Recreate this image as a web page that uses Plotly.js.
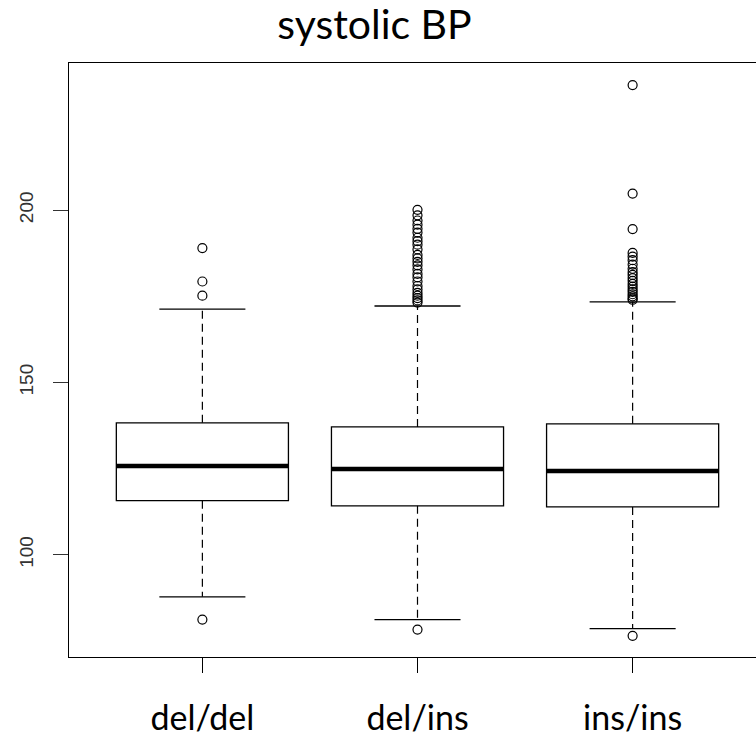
<!DOCTYPE html>
<html>
<head>
<meta charset="utf-8">
<script src="https://cdn.plot.ly/plotly-3.0.1.min.js"></script>
<style>
html,body{margin:0;padding:0;background:#fff;overflow:hidden;width:756px;height:737px;}
#chart{width:770px;height:737px;}
</style>
</head>
<body>
<div id="chart"></div>
<script>
// Data
var categories = ["del/del", "del/ins", "ins/ins"];
var q1Values = [115.7, 114.2, 113.9];
var medianValues = [125.8, 124.9, 124.3];
var q3Values = [138.3, 137.1, 138.0];
var lowerWhisker = [87.8, 81.2, 78.6];
var upperWhisker = [171.3, 172.2, 173.4];
var outliersDelDel = [189.0, 179.3, 175.2, 81.2];
var outliersDelIns = [200.1, 198.5, 197.0, 195.8, 194.6, 193.5, 192.0, 191.0, 190.0, 188.6, 187.0, 186.0,
  185.0, 184.0, 182.8, 181.5, 180.5, 179.3, 178.0, 177.0, 176.0, 175.2, 174.5, 173.8, 173.2, 78.3];
var outliersInsIns = [236.3, 204.8, 194.5, 187.6, 186.5, 185.5, 184.2, 183.0, 182.0, 181.2, 180.3, 179.5,
  178.6, 177.8, 177.0, 176.3, 175.6, 175.0, 174.4, 174.0, 76.5];
var yTickValues = [100, 150, 200];

var outlierSets = [outliersDelDel, outliersDelIns, outliersInsIns];
var positions = categories.map(function (c, i) { return i + 1; });
var boxHalf = 0.4, capHalf = 0.2;

var traces = [];
traces.push({
  type: 'box',
  x: positions,
  q1: q1Values,
  median: medianValues,
  q3: q3Values,
  lowerfence: q1Values,
  upperfence: q3Values,
  width: 0.8,
  whiskerwidth: 0,
  fillcolor: '#ffffff',
  line: {color: '#000000', width: 1.3},
  boxpoints: false,
  hoverinfo: 'skip'
});

// dashed whiskers, caps and thick medians
var wx = [], wy = [];
var cx = [], cy = [];
var mx = [], my = [];
positions.forEach(function (p, i) {
  wx.push(p, p, null, p, p, null);
  wy.push(q3Values[i], upperWhisker[i], null, q1Values[i], lowerWhisker[i], null);
  cx.push(p - capHalf, p + capHalf, null, p - capHalf, p + capHalf, null);
  cy.push(upperWhisker[i], upperWhisker[i], null, lowerWhisker[i], lowerWhisker[i], null);
  mx.push(p - boxHalf, p + boxHalf, null);
  my.push(medianValues[i], medianValues[i], null);
});
traces.push({type: 'scatter', mode: 'lines', x: wx, y: wy,
  line: {color: '#000000', width: 1.2, dash: '8px,5px'}, hoverinfo: 'skip'});
traces.push({type: 'scatter', mode: 'lines', x: cx, y: cy,
  line: {color: '#000000', width: 1.3}, hoverinfo: 'skip'});
traces.push({type: 'scatter', mode: 'lines', x: mx, y: my,
  line: {color: '#000000', width: 4.5}, hoverinfo: 'skip'});

// outliers
var ox = [], oy = [];
outlierSets.forEach(function (set, i) {
  set.forEach(function (v) { ox.push(positions[i]); oy.push(v); });
});
traces.push({type: 'scatter', mode: 'markers', x: ox, y: oy,
  marker: {symbol: 'circle-open', size: 9, color: '#000000', line: {width: 1.2, color: '#000000'}},
  hoverinfo: 'skip'});

var layout = {
  width: 770, height: 737,
  margin: {l: 69, r: 4, t: 63, b: 80},
  paper_bgcolor: '#ffffff', plot_bgcolor: '#ffffff',
  showlegend: false,
  title: {
    text: 'systolic BP',
    font: {family: 'Lato', size: 41, color: '#000000'},
    xref: 'container', x: 374.5 / 770, xanchor: 'center',
    yref: 'container', y: 1 - 10 / 737, yanchor: 'top'
  },
  xaxis: {
    range: [0.38, 3.62],
    tickvals: positions,
    ticktext: categories,
    ticks: 'outside', ticklen: 15, tickwidth: 1, tickcolor: '#000000',
    showline: true, mirror: true, linecolor: '#000000', linewidth: 1.3,
    showgrid: false, zeroline: false,
    tickfont: {family: 'Lato', size: 34, color: '#000000'},
    ticklabelstandoff: 16
  },
  yaxis: {
    range: [70.35, 242.7],
    tickvals: yTickValues,
    ticktext: yTickValues.map(String),
    tickangle: -90,
    ticks: 'outside', ticklen: 15, tickwidth: 1, tickcolor: '#333333',
    showline: true, mirror: true, linecolor: '#000000', linewidth: 1.3,
    showgrid: false, zeroline: false,
    tickfont: {family: 'Liberation Sans', size: 19, color: '#333333'},
    ticklabelstandoff: 12
  }
};

Plotly.newPlot('chart', traces, layout, {displayModeBar: false, staticPlot: true});
</script>
</body>
</html>
